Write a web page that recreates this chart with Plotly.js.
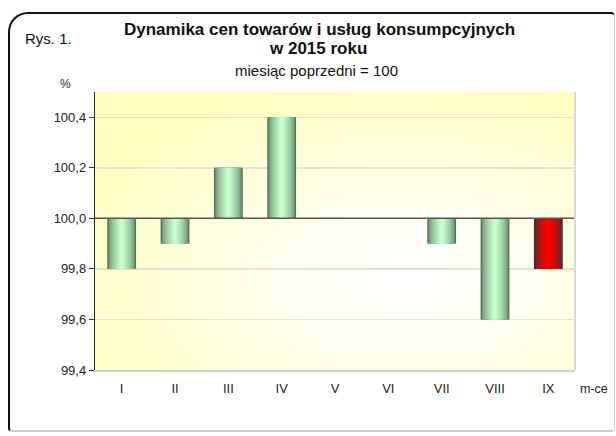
<!DOCTYPE html>
<html>
<head>
<meta charset="utf-8">
<script src="https://cdn.plot.ly/plotly-3.0.1.min.js"></script>
<style>
html,body{margin:0;padding:0;background:#fff;}
#wrap{position:relative;width:616px;height:436px;}
#chart{position:absolute;left:0;top:0;width:616px;height:436px;}
#frame{position:absolute;left:8px;top:12px;width:607px;height:420px;border-left:2px solid #111;border-top:2px solid #111;border-right:1px solid #ccc;border-bottom:2px solid #ccc;border-radius:20px 4px 4px 4px;pointer-events:none;box-sizing:border-box;}
</style>
</head>
<body>
<div id="wrap"><div id="chart"></div><div id="frame"></div></div>
<script>
const months = ["I","II","III","IV","V","VI","VII","VIII","IX"];
const values = [99.8, 99.9, 100.2, 100.4, 100.0, 100.0, 99.9, 99.6, 99.8];
const highlight = [false,false,false,false,false,false,false,false,true];
const BASE = 100;
const yTicks = [99.4, 99.6, 99.8, 100.0, 100.2, 100.4];
const yTickText = ["99,4","99,6","99,8","100,0","100,2","100,4"];

function lerp(a,b,t){return Math.round(a+(b-a)*t);}
function mix(c1,c2,t){return "rgb("+lerp(c1[0],c2[0],t)+","+lerp(c1[1],c2[1],t)+","+lerp(c1[2],c2[2],t)+")";}
const greenEdge=[84,112,88], greenMid=[198,255,204];
const redEdge=[58,48,52], redMid=[255,0,0];

const N = 12, W = 0.54;
const traces = [];
for(let k=0;k<N;k++){
  const t = Math.pow(k/(N-1), 0.55);
  const w = W*(1 - k/N);
  traces.push({
    type:"bar",
    x: months,
    y: values.map(v => +(v-BASE).toFixed(4)),
    base: BASE,
    width: w,
    marker:{color: highlight.map(h => h ? mix(redEdge,redMid,t) : mix(greenEdge,greenMid,t)), line:{width:0}},
    hoverinfo:"skip",
    showlegend:false
  });
}

const svg = '<svg xmlns="http://www.w3.org/2000/svg" width="480" height="278" preserveAspectRatio="none"><defs><radialGradient id="g" cx="0.65" cy="0.68" r="0.75"><stop offset="0" stop-color="#ffffff"/><stop offset="0.3" stop-color="#fffff4"/><stop offset="1" stop-color="#ffffc0"/></radialGradient></defs><rect width="480" height="278" fill="url(#g)"/></svg>';
const bgImg = "data:image/svg+xml;base64," + btoa(svg);

const layout = {
  width:616, height:436,
  margin:{l:95, r:41, t:92, b:66},
  paper_bgcolor:"rgba(0,0,0,0)",
  plot_bgcolor:"rgba(0,0,0,0)",
  barmode:"overlay",
  font:{family:"Liberation Sans, Arial, sans-serif", size:13, color:"#222"},
  xaxis:{
    type:"category", showgrid:false, zeroline:false,
    showline:true, linecolor:"#d0d0d0", linewidth:2, mirror:false,
    ticks:"", tickfont:{size:13, color:"#222"}, ticklabelstandoff:5,
    range:[-0.5, 8.5]
  },
  yaxis:{
    range:[99.4, 100.5], tickvals:yTicks, ticktext:yTickText,
    showgrid:true, gridcolor:"#e2e2d0", gridwidth:1.5,
    zeroline:false, showline:true, linecolor:"#222", linewidth:1.2,
    ticks:"outside", ticklen:5, tickcolor:"#333",
    tickfont:{size:13, color:"#222"}
  },
  images:[{source:bgImg, xref:"paper", yref:"paper", x:0, y:1, sizex:1, sizey:1, sizing:"stretch", layer:"below", xanchor:"left", yanchor:"top"}],
  shapes:[
    {type:"line", xref:"paper", yref:"y", x0:0, x1:1, y0:BASE, y1:BASE, line:{color:"#555", width:1.5}, layer:"above"},
    {type:"line", xref:"paper", yref:"paper", x0:1, x1:1, y0:0, y1:1, line:{color:"#d8d8d8", width:2}}
  ],
  annotations:[
    {text:"<b>Dynamika cen towarów i usług konsumpcyjnych</b>", xref:"paper", yref:"paper", x:0.468, y:1.0, yshift:63, xanchor:"center", yanchor:"middle", showarrow:false, font:{size:17, color:"#111"}},
    {text:"<b>w 2015 roku</b>", xref:"paper", yref:"paper", x:0.465, y:1.0, yshift:44, xanchor:"center", yanchor:"middle", showarrow:false, font:{size:17, color:"#111"}},
    {text:"miesiąc poprzedni = 100", xref:"paper", yref:"paper", x:0.461, y:1.0, yshift:22, xanchor:"center", yanchor:"middle", showarrow:false, font:{size:15, color:"#111"}},
    {text:"Rys. 1.", xref:"paper", yref:"paper", x:0, xshift:-72, y:1.0, yshift:54, xanchor:"left", yanchor:"middle", showarrow:false, font:{size:15, color:"#111"}},
    {text:"%", xref:"paper", yref:"paper", x:0, xshift:-30, y:1.0, yshift:8, xanchor:"center", yanchor:"middle", showarrow:false, font:{size:12, color:"#222"}},
    {text:"m-ce", xref:"paper", yref:"paper", x:1.0, xshift:3, y:0, yshift:-10, xanchor:"left", yanchor:"top", showarrow:false, font:{size:12.5, color:"#222"}}
  ]
};

Plotly.newPlot("chart", traces, layout, {displayModeBar:false, staticPlot:true});
</script>
</body>
</html>
